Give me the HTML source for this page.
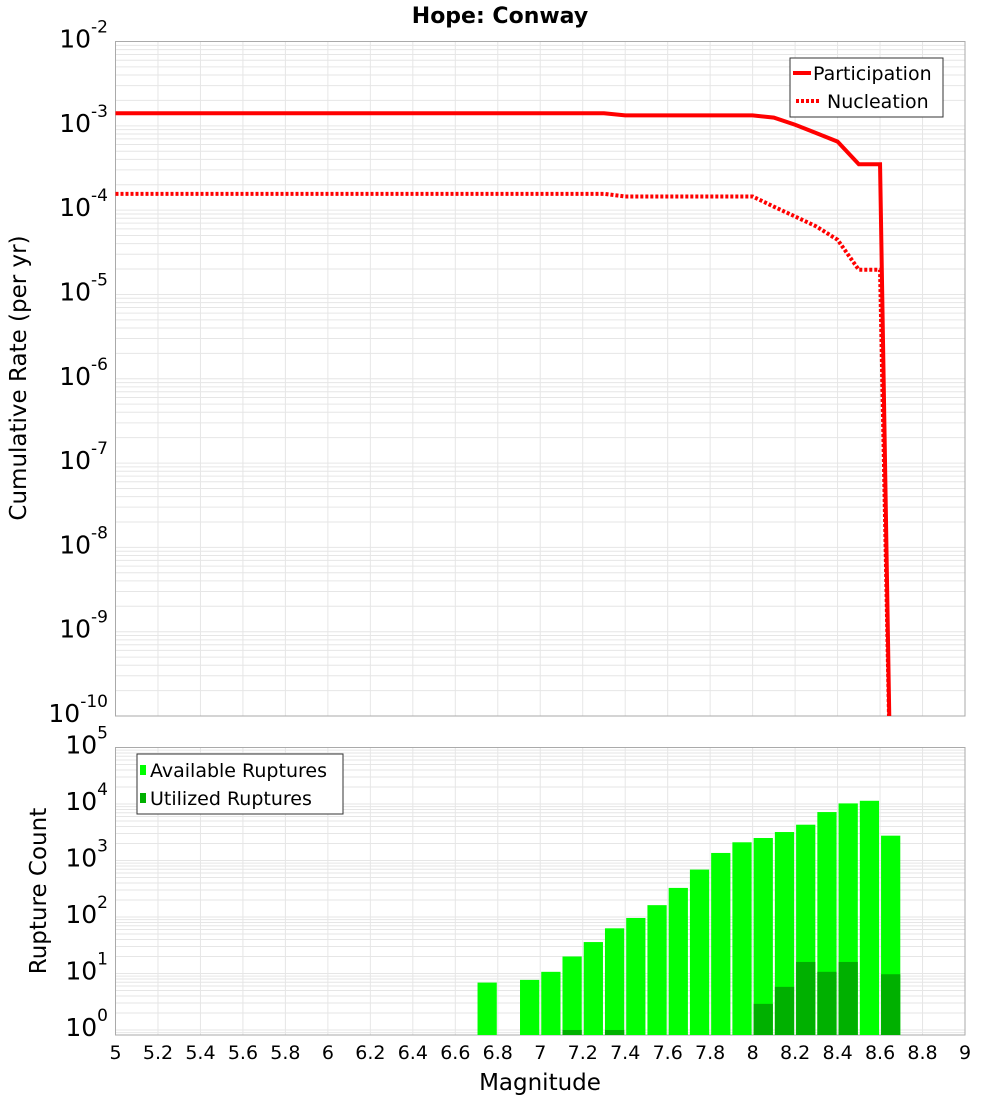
<!DOCTYPE html>
<html><head><meta charset="utf-8"><style>
body{margin:0;background:#fff;}
svg text{font-family:"DejaVu Sans","Liberation Sans",sans-serif;}
</style></head><body>
<svg id="c" width="1000" height="1100" xmlns="http://www.w3.org/2000/svg"></svg>
<script>
const partMags=[5,7.3,7.4,8.0,8.1,8.2,8.3,8.4,8.5,8.6,8.65];
const partVals=[1.41e-3,1.41e-3,1.33e-3,1.33e-3,1.25e-3,1.03e-3,8.2e-4,6.5e-4,3.5e-4,3.5e-4,1e-11];
const nuclMags=[5,7.3,7.4,8.0,8.1,8.2,8.3,8.4,8.5,8.6,8.65];
const nuclVals=[1.56e-4,1.56e-4,1.45e-4,1.45e-4,1.10e-4,8.4e-5,6.4e-5,4.45e-5,1.96e-5,1.96e-5,1e-11];
const binMags=[6.75,6.95,7.05,7.15,7.25,7.35,7.45,7.55,7.65,7.75,7.85,7.95,8.05,8.15,8.25,8.35,8.45,8.55,8.65];
const availCounts=[6.9,7.7,10.7,20,36,63,96,162,327,690,1360,2100,2500,3190,4300,7200,10250,11400,2750];
const usedCounts=[0,0,0,1,0,1,0,0,0,0,0,0,2.9,5.8,16,10.7,16,0,9.7];
const xTicks=[5,5.2,5.4,5.6,5.8,6,6.2,6.4,6.6,6.8,7,7.2,7.4,7.6,7.8,8,8.2,8.4,8.6,8.8,9];
const topExp=[-2,-3,-4,-5,-6,-7,-8,-9,-10];
const botExp=[0,1,2,3,4,5];

const svg=document.getElementById('c');
const NS='http://www.w3.org/2000/svg';
function mk(t,a,p){const e=document.createElementNS(NS,t);for(const k in a)e.setAttribute(k,a[k]);(p||svg).appendChild(e);return e;}
const L=115.5,R=965;
const X=m=>L+(m-5)/4*(R-L);
const T0=41.5,T1=716;
const yTop=v=>T0+(-2-Math.log10(v))/8*(T1-T0);
const B0=747.5,B1=1035,bMin=Math.log10(0.815);
const yBot=v=>B0+(5-Math.log10(v))/(5-bMin)*(B1-B0);

// grids
const g=mk('g',{});


xTicks.forEach(m=>{mk('line',{x1:X(m),x2:X(m),y1:T0,y2:T1,stroke:'#e6e6e6'},g);mk('line',{x1:X(m),x2:X(m),y1:B0,y2:B1,stroke:'#e6e6e6'},g);});
for(let e=-10;e<-2;e++)for(let k=1;k<10;k++){const y=yTop(k*Math.pow(10,e));mk('line',{x1:L,x2:R,y1:y,y2:y,stroke:'#e6e6e6'},g);}
for(let e=-1;e<5;e++)for(let k=1;k<10;k++){const v=k*Math.pow(10,e);if(v<0.815)continue;const y=yBot(v);mk('line',{x1:L,x2:R,y1:y,y2:y,stroke:'#e6e6e6'},g);}

// frames
const f1=mk('rect',{x:L,y:T0,width:R-L,height:T1-T0,fill:'none',stroke:'#aaa'});

const f2=mk('rect',{x:L,y:B0,width:R-L,height:B1-B0,fill:'none',stroke:'#aaa'});


// lines
const clip=mk('clipPath',{id:'cp'});mk('rect',{x:L,y:T0,width:R-L,height:T1-T0},clip);
function pts(ms,vs){return ms.map((m,i)=>X(m)+','+yTop(vs[i])).join(' ');}
const pl=mk('polyline',{points:pts(partMags,partVals),fill:'none',stroke:'#f00','stroke-width':4,'clip-path':'url(#cp)'});

const nl=mk('polyline',{points:pts(nuclMags,nuclVals),fill:'none',stroke:'#f00','stroke-width':4,'stroke-dasharray':'3,2','clip-path':'url(#cp)'});


// bars
const bw=X(0.1)-X(0)-2;
binMags.forEach((m,i)=>{
  const v=availCounts[i];const y=yBot(v);
  const r=mk('rect',{x:X(m)-bw/2,y:y,width:bw,height:B1-y,fill:'#00ff00'});
  
  
  const u=usedCounts[i];
  if(u>0){const yu=yBot(u);const r2=mk('rect',{x:X(m)-bw/2,y:yu,width:bw,height:B1-yu,fill:'#00b000'});
    
    }
});

// x ticks
xTicks.forEach(m=>{const t=mk('text',{x:X(m),y:1059,'font-size':19,'text-anchor':'middle'});t.textContent=String(m);
  
  });
// y labels
function ylab(y,e){const t=mk('text',{x:108,y:y+11,'font-size':25,'text-anchor':'end'});
  const a=mk('tspan',{},t);a.textContent='10';
  const b=mk('tspan',{dy:-15,'font-size':17},t);b.textContent=String(e);
  
  }
topExp.forEach(e=>ylab(yTop(Math.pow(10,e))-5,e));
botExp.forEach(e=>ylab(yBot(Math.pow(10,e))-5,e));
</script>
<svg style="position:absolute;left:0;top:0" width="1000" height="1100" xmlns="http://www.w3.org/2000/svg">
<text x="500" y="23" font-size="22" font-weight="bold" text-anchor="middle" font-family="DejaVu Sans,Liberation Sans,sans-serif">Hope: Conway</text>
<text transform="translate(26,378) rotate(-90)" font-size="23" text-anchor="middle" font-family="DejaVu Sans,Liberation Sans,sans-serif">Cumulative Rate (per yr)</text>
<text transform="translate(46,891) rotate(-90)" font-size="23" text-anchor="middle" font-family="DejaVu Sans,Liberation Sans,sans-serif">Rupture Count</text>
<text x="540" y="1090" font-size="23" text-anchor="middle" font-family="DejaVu Sans,Liberation Sans,sans-serif">Magnitude</text>
<g font-family="DejaVu Sans,Liberation Sans,sans-serif" font-size="19">
<rect x="790" y="58" width="153" height="59" fill="#fff" stroke="#333"/>
<line x1="793" y1="73" x2="811" y2="73" stroke="#f00" stroke-width="4"/>
<text x="813" y="80">Participation</text>
<line x1="796" y1="101" x2="820" y2="101" stroke="#f00" stroke-width="4" stroke-dasharray="3,2"/>
<text x="827" y="108">Nucleation</text>
</g>
<g font-family="DejaVu Sans,Liberation Sans,sans-serif" font-size="19">
<rect x="137" y="754" width="206" height="60" fill="#fff" stroke="#333"/>
<rect x="140" y="765" width="6" height="10" fill="#00ff00"/>
<text x="150" y="777">Available Ruptures</text>
<rect x="140" y="793" width="6" height="10" fill="#00b000"/>
<text x="150" y="805">Utilized Ruptures</text>
</g>
</svg>
</body></html>
